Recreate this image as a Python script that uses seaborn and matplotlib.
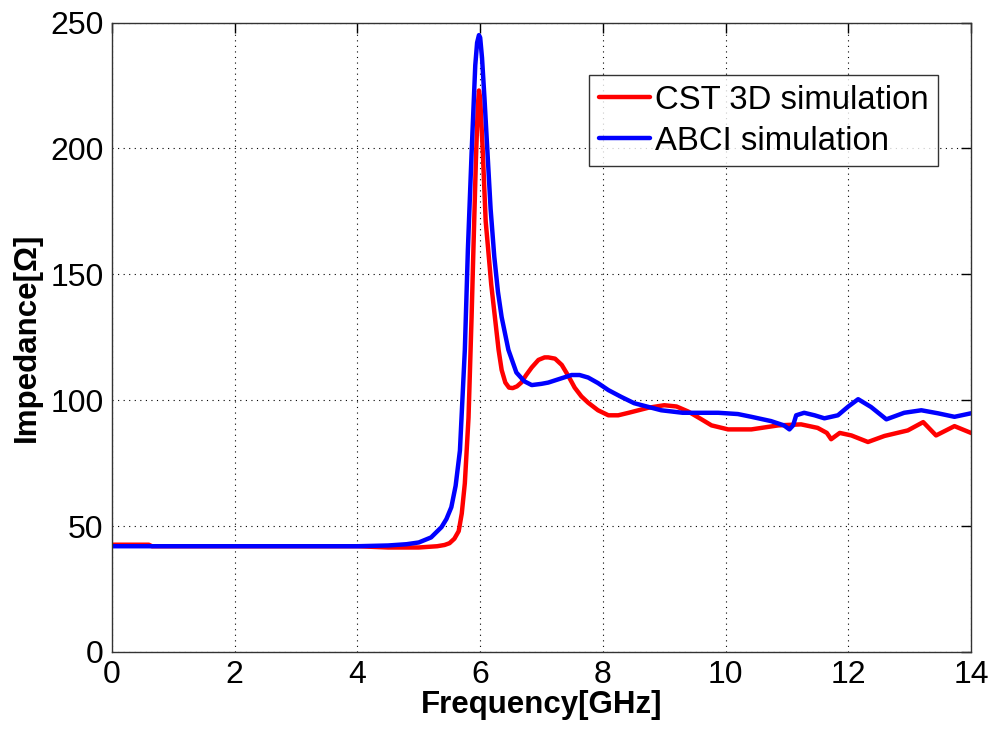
import numpy as np
import pandas as pd
import matplotlib
matplotlib.use("Agg")
import matplotlib.pyplot as plt
import seaborn as sns

# ---- data ----
cst_freq = [0, 0.6, 0.65, 2.0, 4.0, 4.5, 5.0, 5.3, 5.42, 5.5, 5.58, 5.65, 5.7, 5.75, 5.81,
            5.86, 5.89, 5.93, 5.96, 5.98, 6.0, 6.04, 6.09, 6.13, 6.18, 6.24, 6.3, 6.35,
            6.41, 6.47, 6.53, 6.6, 6.67, 6.75, 6.84, 6.95, 7.05, 7.11, 7.22, 7.33, 7.44,
            7.54, 7.65, 7.76, 7.92, 8.09, 8.25, 8.42, 8.74, 9.0, 9.2, 9.39, 9.6, 9.77,
            10.04, 10.42, 10.86, 11.23, 11.5, 11.65, 11.72, 11.86, 12.05, 12.32, 12.59,
            12.97, 13.22, 13.43, 13.73, 14.0]
cst_imp = [42.6, 42.6, 42, 42, 42, 41.5, 41.5, 42, 42.5, 43.2, 45, 48, 55, 67, 93,
           133, 160, 195, 216, 223, 220, 200, 171, 160, 146, 133, 120, 112,
           107, 105, 104.8, 105.5, 107, 110, 113, 116, 117, 117, 116.5, 114, 109.5,
           105, 101.5, 99, 96, 94, 94, 95, 97, 98, 97.5, 95.5, 92.5, 90,
           88.4, 88.4, 90, 90.4, 89, 87, 84.5, 87, 86, 83.4, 85.8,
           88, 91.3, 86, 89.7, 87]

abci_freq = [0, 2.0, 4.0, 4.5, 4.8, 5.0, 5.2, 5.37, 5.45, 5.53, 5.6, 5.67, 5.75, 5.80,
             5.86, 5.92, 5.95, 5.98, 6.0, 6.03, 6.07, 6.12, 6.17, 6.23, 6.29, 6.35,
             6.46, 6.59, 6.72, 6.84, 7.0, 7.11, 7.3, 7.49, 7.62, 7.76, 7.92, 8.09,
             8.3, 8.51, 8.95, 9.3, 9.6, 9.88, 10.2, 10.42, 10.74, 10.95, 11.04, 11.1,
             11.15, 11.28, 11.45, 11.61, 11.83, 12.0, 12.16, 12.37, 12.62, 12.91, 13.19,
             13.46, 13.73, 14.0]
abci_imp = [42, 42, 42, 42.3, 42.8, 43.5, 45.5, 49.6, 52.8, 57.5, 66, 80, 120, 160,
            198, 233, 242, 245, 244, 236, 220, 198, 176, 157, 143, 133,
            120, 111, 107.5, 106, 106.5, 107, 108.5, 110, 110, 109, 106.8, 104,
            101.3, 98.8, 96, 95, 95, 95, 94.5, 93.4, 91.7, 90, 88.4, 90,
            94, 95, 94, 92.8, 94, 97.5, 100.4, 97.3, 92.4, 95, 96,
            94.8, 93.4, 94.8]

series_names = ["CST 3D simulation", "ABCI simulation"]
series_colors = ["#ff0000", "#0000ff"]
x_ticks = [0, 2, 4, 6, 8, 10, 12, 14]
y_ticks = [0, 50, 100, 150, 200, 250]

df = pd.concat([
    pd.DataFrame({"Frequency": cst_freq, "Impedance": cst_imp, "Series": series_names[0]}),
    pd.DataFrame({"Frequency": abci_freq, "Impedance": abci_imp, "Series": series_names[1]}),
], ignore_index=True)

sns.set_style("white")
plt.rcParams["font.family"] = ["Liberation Sans", "DejaVu Sans"]
plt.rcParams["text.color"] = "black"
plt.rcParams["axes.labelcolor"] = "black"

fig = plt.figure(figsize=(9.94, 7.31), dpi=100)
ax = fig.add_axes([0.1127, 0.1081, 0.9769 - 0.1127, 0.9692 - 0.1081])

sns.lineplot(data=df, x="Frequency", y="Impedance", hue="Series",
             hue_order=series_names, palette=series_colors, linewidth=3.2,
             sort=False, estimator=None, ax=ax)
for ln in ax.get_lines():
    ln.set_solid_joinstyle("round")
    ln.set_solid_capstyle("round")

ax.set_xlim(0, 14)
ax.set_ylim(0, 250)
ax.set_xticks(x_ticks)
ax.set_yticks(y_ticks)
ax.tick_params(direction="in", length=7, width=1, top=True, right=True,
               labelsize=23, colors="black", pad=6)
ax.grid(True, linestyle=(0, (1, 4)), color="black", linewidth=0.8)
for s in ax.spines.values():
    s.set_color("#333333")
    s.set_linewidth(1.0)
    s.set_visible(True)

ax.set_xlabel("Frequency[GHz]", fontsize=22.5, fontweight="bold", labelpad=0, color="black")
ax.set_ylabel("Impedance[Ω]", fontsize=22.5, fontweight="bold", labelpad=6, color="black")

leg = ax.legend(loc="upper right", bbox_to_anchor=(0.962, 0.917), fontsize=23.7,
                frameon=True, fancybox=False, edgecolor="black",
                handlelength=1.55, handletextpad=0.15, borderpad=0.3,
                labelspacing=0.3, borderaxespad=0)
leg.get_frame().set_linewidth(1.0)
for line in leg.get_lines():
    line.set_linewidth(3.2)

fig.savefig("out.png", dpi=100)
